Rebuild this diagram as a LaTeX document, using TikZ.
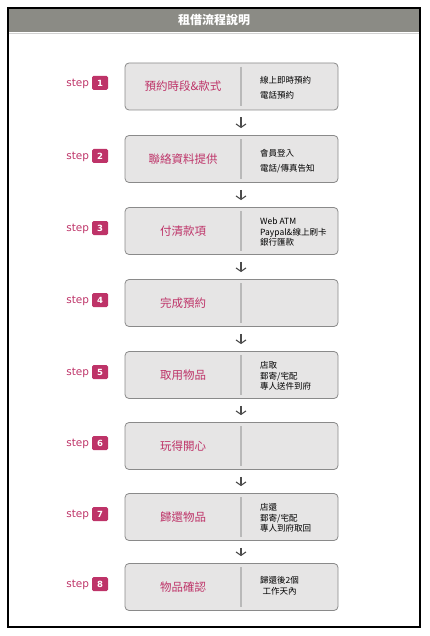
\documentclass[tikz,border=0pt]{standalone}
\usepackage{fontspec}
\usepackage{xcolor}
\usetikzlibrary{arrows.meta, positioning}
\newfontfamily\cjk{Noto Sans CJK TC}
\newfontfamily\stepfont{DejaVu Sans}
\definecolor{rose}{HTML}{BE3368}
\definecolor{boxgray}{HTML}{E6E5E5}
\definecolor{edgegray}{HTML}{8A8A8A}
\definecolor{bargray}{HTML}{8B8B85}
\tikzset{
  stepbox/.style={draw=edgegray, fill=boxgray, rounded corners=4pt, line width=0.8pt,
    minimum width=213pt, minimum height=47pt, inner sep=0pt},
  maintext/.style={text=rose, inner sep=0pt, font=\cjk\fontsize{11.5}{13}\selectfont},
  sidetext/.style={anchor=west, align=left, inner sep=0pt, font=\cjk\fontsize{8.5}{10.5}\selectfont},
  sidewide/.style={sidetext, font=\cjk\fontsize{8.5}{15}\selectfont},
  steplabel/.style={text=rose, inner sep=0pt, anchor=base east, font=\stepfont\fontsize{10.5}{12}\selectfont},
  stepnum/.style={fill=rose, rounded corners=1.5pt, text=white, inner sep=0pt,
    minimum width=16pt, minimum height=14pt, font=\stepfont\bfseries\fontsize{8.5}{10}\selectfont},
  divider/.style={draw=gray!55, line width=1.2pt},
  flow/.style={draw=black!70, line width=1.1pt, -{Straight Barb[length=3.5pt,width=10pt]},
    shorten <=7pt, shorten >=7pt}
}

\begin{document}
\begin{tikzpicture}[x=1pt, y=-1pt]
    \useasboundingbox (0,0) rectangle (429,636);
    \fill[bargray] (8,8) rectangle (420,32);
    \draw[gray!35] (8,33) -- (420,33);
    \node[text=white, font=\cjk\bfseries\fontsize{12}{14}\selectfont] (title) at (214,20) {租借流程說明};
    \draw[line width=1.5pt] (8,8) rectangle (420,627);

    \node[stepbox] (b1) at (231.5,86.5)  {};
    \node[stepbox] (b2) at (231.5,159)   {};
    \node[stepbox] (b3) at (231.5,231)   {};
    \node[stepbox] (b4) at (231.5,303)   {};
    \node[stepbox] (b5) at (231.5,375)   {};
    \node[stepbox] (b6) at (231.5,446)   {};
    \node[stepbox] (b7) at (231.5,517)   {};
    \node[stepbox] (b8) at (231.5,587)   {};

    \foreach \b in {b1,b2,b3,b4,b5,b6,b7,b8}
        \draw[divider] ([xshift=9.5pt,yshift=-4pt]\b.north) -- ([xshift=9.5pt,yshift=4pt]\b.south);

    \node[maintext] (t1) at (183,86.5) {預約時段\&款式};
    \node[maintext] (t2) at (183,159)  {聯絡資料提供};
    \node[maintext] (t3) at (183,231)  {付清款項};
    \node[maintext] (t4) at (183,303)  {完成預約};
    \node[maintext] (t5) at (183,375)  {取用物品};
    \node[maintext] (t6) at (183,446)  {玩得開心};
    \node[maintext] (t7) at (183,517)  {歸還物品};
    \node[maintext] (t8) at (183,587)  {物品確認};

    \node[sidewide] (s1) at (260,88)  {線上即時預約\\電話預約};
    \node[sidewide] (s2) at (260,161) {會員登入\\電話/傳真告知};
    \node[sidetext] (s3) at (260,232) {Web ATM\\Paypal\&線上刷卡\\銀行匯款};
    \node[sidetext] (s5) at (260,376) {店取\\郵寄/宅配\\專人送件到府};
    \node[sidetext] (s7) at (260,518) {店還\\郵寄/宅配\\專人到府取回};
    \node[sidetext, align=center] (s8) at (260,586) {歸還後2個\\工作天內};

    \node[stepnum] (n1) at (100,83)  {1};
    \node[stepnum] (n2) at (100,156) {2};
    \node[stepnum] (n3) at (100,228) {3};
    \node[stepnum] (n4) at (100,300) {4};
    \node[stepnum] (n5) at (100,372) {5};
    \node[stepnum] (n6) at (100,443) {6};
    \node[stepnum] (n7) at (100,514) {7};
    \node[stepnum] (n8) at (100,584) {8};
    \foreach \n in {n1,n2,n3,n4,n5,n6,n7,n8}
        \node[steplabel] at ([xshift=-2.5pt]\n.base west) {step};

    \draw[flow] ([xshift=9.5pt]b1.south) -- ([xshift=9.5pt]b2.north);
    \draw[flow] ([xshift=9.5pt]b2.south) -- ([xshift=9.5pt]b3.north);
    \draw[flow] ([xshift=9.5pt]b3.south) -- ([xshift=9.5pt]b4.north);
    \draw[flow] ([xshift=9.5pt]b4.south) -- ([xshift=9.5pt]b5.north);
    \draw[flow] ([xshift=9.5pt]b5.south) -- ([xshift=9.5pt]b6.north);
    \draw[flow] ([xshift=9.5pt]b6.south) -- ([xshift=9.5pt]b7.north);
    \draw[flow] ([xshift=9.5pt]b7.south) -- ([xshift=9.5pt]b8.north);
\end{tikzpicture}
\end{document}
